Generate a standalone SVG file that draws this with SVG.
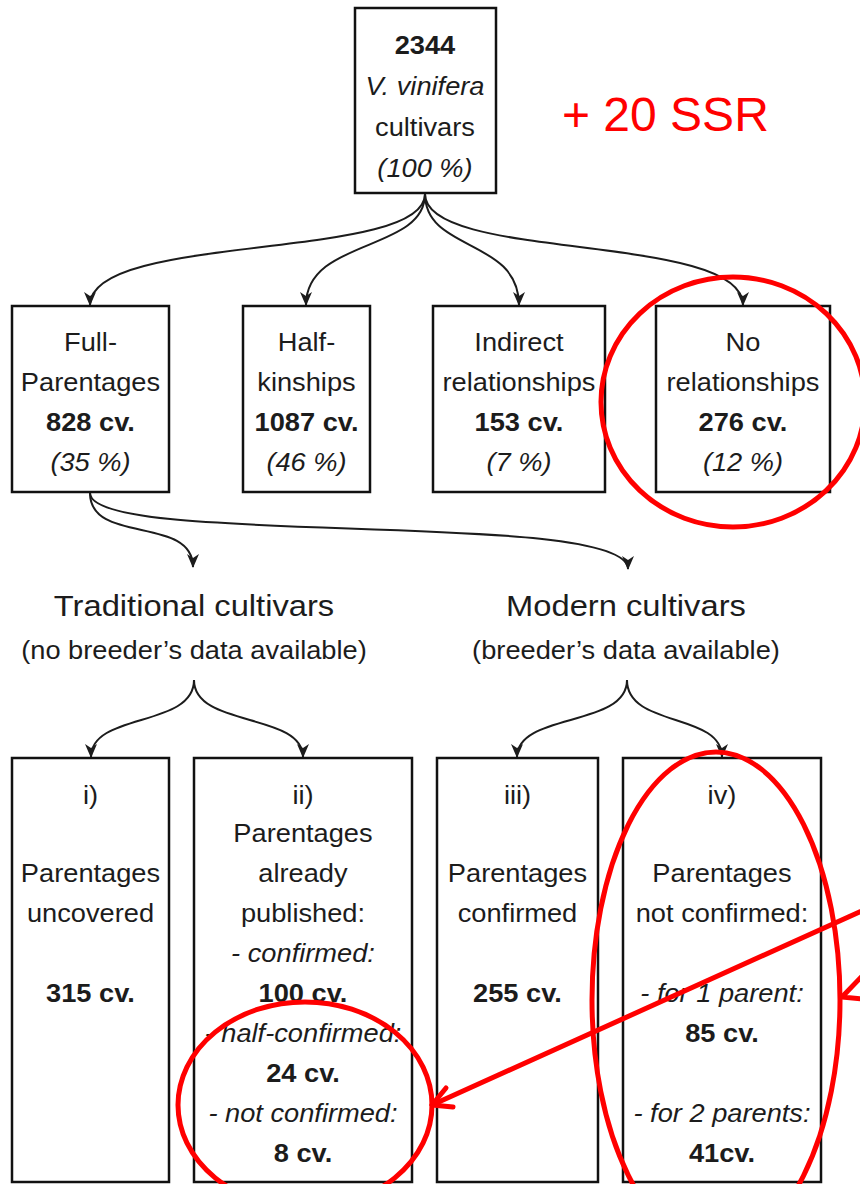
<svg xmlns="http://www.w3.org/2000/svg" width="860" height="1184" viewBox="0 0 860 1184">
  <defs>
    <style>
      text { font-family: "Liberation Sans", Arial, sans-serif; fill: #1c1c1c; }
      .t { font-size: 25px; text-anchor: middle; transform-box: fill-box; transform-origin: center; transform: scaleX(1.09); }
      .h { font-size: 30px; }
      .b { font-weight: bold; }
      .i { font-style: italic; }
      .box { fill: #fff; stroke: #111; stroke-width: 2.5; }
      .edge { fill: none; stroke: #1c1c1c; stroke-width: 2; marker-end: url(#arr); }
      .red { fill: none; stroke: #f00; stroke-width: 5; stroke-linecap: round; stroke-linejoin: round; }
      .note { font-size: 48px; fill: #f00; }
    </style>
    <marker id="arr" viewBox="0 0 14 12" refX="13" refY="6" markerWidth="14" markerHeight="12" markerUnits="userSpaceOnUse" orient="auto">
      <path d="M0,0 L14,6 L0,12 L4,6 Z" fill="#1c1c1c"/>
    </marker>
  </defs>

  <rect width="860" height="1184" fill="#fff"/>

  <!-- connectors -->
  <g id="connectors">
    <path class="edge" d="M425,194 C425,262 90,232 90,305"/>
    <path class="edge" d="M425,194 C425,252 306,238 306,305"/>
    <path class="edge" d="M425,194 C425,252 519,238 519,305"/>
    <path class="edge" d="M425,194 C425,262 743,232 743,305"/>
    <path class="edge" d="M90,493 C90,545 193,515 193,567"/>
    <path class="edge" d="M90,493 C90,548 628,508 628,569"/>
    <path class="edge" d="M194,680 C194,728 91,712 91,757"/>
    <path class="edge" d="M194,680 C194,728 303,712 303,757"/>
    <path class="edge" d="M627,680 C627,728 517,712 517,757"/>
    <path class="edge" d="M627,680 C627,728 722,712 722,757"/>
  </g>

  <!-- root -->
  <g id="all-cultivars">
    <rect class="box" x="355" y="8" width="141" height="185"/>
    <text class="t b" x="425" y="54">2344</text>
    <text class="t i" x="425" y="95">V. vinifera</text>
    <text class="t" x="425" y="136">cultivars</text>
    <text class="t i" x="425" y="177">(100 %)</text>
  </g>

  <!-- relationship classes -->
  <g id="full-parentages">
    <rect class="box" x="12" y="306" width="157" height="186"/>
    <text class="t" x="90.5" y="351">Full-</text>
    <text class="t" x="90.5" y="391">Parentages</text>
    <text class="t b" x="90.5" y="431">828 cv.</text>
    <text class="t i" x="90.5" y="471">(35 %)</text>
  </g>
  <g id="half-kinships">
    <rect class="box" x="243" y="306" width="127" height="186"/>
    <text class="t" x="306.5" y="351">Half-</text>
    <text class="t" x="306.5" y="391">kinships</text>
    <text class="t b" x="306.5" y="431">1087 cv.</text>
    <text class="t i" x="306.5" y="471">(46 %)</text>
  </g>
  <g id="indirect-relationships">
    <rect class="box" x="433" y="306" width="172" height="186"/>
    <text class="t" x="519" y="351">Indirect</text>
    <text class="t" x="519" y="391">relationships</text>
    <text class="t b" x="519" y="431">153 cv.</text>
    <text class="t i" x="519" y="471">(7 %)</text>
  </g>
  <g id="no-relationships">
    <rect class="box" x="656" y="306" width="174" height="186"/>
    <text class="t" x="743" y="351">No</text>
    <text class="t" x="743" y="391">relationships</text>
    <text class="t b" x="743" y="431">276 cv.</text>
    <text class="t i" x="743" y="471">(12 %)</text>
  </g>

  <!-- cultivar groups -->
  <g id="traditional">
    <text class="t h" x="194" y="616">Traditional cultivars</text>
    <text class="t" x="194" y="659">(no breeder’s data available)</text>
  </g>
  <g id="modern">
    <text class="t h" x="626" y="616">Modern cultivars</text>
    <text class="t" x="626" y="659">(breeder’s data available)</text>
  </g>

  <!-- outcome boxes -->
  <g id="case-i">
    <rect class="box" x="12" y="758" width="157" height="424"/>
    <text class="t" x="90.5" y="804">i)</text>
    <text class="t" x="90.5" y="882">Parentages</text>
    <text class="t" x="90.5" y="922">uncovered</text>
    <text class="t b" x="90.5" y="1002">315 cv.</text>
  </g>
  <g id="case-ii">
    <rect class="box" x="194" y="758" width="218" height="424"/>
    <text class="t" x="303" y="804">ii)</text>
    <text class="t" x="303" y="842">Parentages</text>
    <text class="t" x="303" y="882">already</text>
    <text class="t" x="303" y="922">published:</text>
    <text class="t i" x="303" y="962">- confirmed:</text>
    <text class="t b" x="303" y="1002">100 cv.</text>
    <text class="t i" x="303" y="1042">- half-confirmed:</text>
    <text class="t b" x="303" y="1082">24 cv.</text>
    <text class="t i" x="303" y="1122">- not confirmed:</text>
    <text class="t b" x="303" y="1162">8 cv.</text>
  </g>
  <g id="case-iii">
    <rect class="box" x="437" y="758" width="161" height="424"/>
    <text class="t" x="517.5" y="804">iii)</text>
    <text class="t" x="517.5" y="882">Parentages</text>
    <text class="t" x="517.5" y="922">confirmed</text>
    <text class="t b" x="517.5" y="1002">255 cv.</text>
  </g>
  <g id="case-iv">
    <rect class="box" x="623" y="758" width="198" height="424"/>
    <text class="t" x="722" y="804">iv)</text>
    <text class="t" x="722" y="882">Parentages</text>
    <text class="t" x="722" y="922">not confirmed:</text>
    <text class="t i" x="722" y="1002">- for 1 parent:</text>
    <text class="t b" x="722" y="1042">85 cv.</text>
    <text class="t i" x="722" y="1122">- for 2 parents:</text>
    <text class="t b" x="722" y="1162">41cv.</text>
  </g>

  <!-- red markup -->
  <g id="markup">
    <text class="note" x="562" y="131">+ 20 SSR</text>
    <ellipse class="red" cx="733" cy="402" rx="132" ry="125"/>
    <ellipse class="red" cx="305" cy="1105" rx="127" ry="103"/>
    <ellipse class="red" cx="716" cy="1000" rx="124" ry="248"/>
    <path class="red" d="M875,905 L432,1105"/>
    <path class="red" d="M446,1088 L432,1105 L453,1107"/>
    <path class="red" d="M866,972 L842,997 L863,999"/>
  </g>
</svg>
